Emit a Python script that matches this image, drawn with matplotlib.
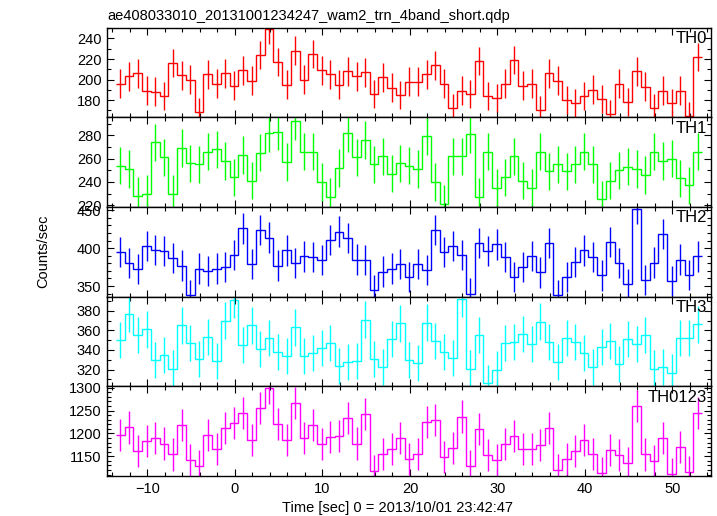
import matplotlib
matplotlib.use('Agg')
import matplotlib.pyplot as plt
import numpy as np
from matplotlib.ticker import MultipleLocator

plt.rcParams['font.family'] = ['Liberation Sans', 'DejaVu Sans']

# time binning (1 s bins)
t_first_edge = -13.6
bin_width = 1.0

# count rates per band
th0 = [196, 203, 206, 189, 188, 184, 216, 204, 200, 168,
       205, 196, 206, 194, 209, 199, 224, 249, 217, 195,
       228, 200, 225, 209, 205, 195, 208, 203, 207, 186,
       202, 192, 185, 198, 198, 205, 214, 196, 172, 189,
       186, 218, 184, 182, 196, 219, 194, 196, 170, 206,
       199, 180, 177, 184, 190, 181, 166, 196, 178, 208,
       193, 172, 189, 177, 189, 164, 222]
th1 = [254, 251, 228, 230, 274, 261, 230, 269, 256, 255,
       266, 268, 258, 244, 263, 241, 265, 282, 283, 257,
       292, 266, 266, 240, 227, 252, 282, 261, 276, 255,
       262, 247, 256, 254, 251, 279, 240, 221, 262, 262,
       281, 227, 266, 235, 244, 262, 241, 235, 266, 249,
       255, 249, 255, 266, 255, 225, 241, 250, 253, 251,
       246, 266, 258, 260, 243, 237, 266]
th2 = [395, 380, 372, 403, 398, 396, 387, 377, 338, 373,
       370, 373, 375, 391, 426, 379, 424, 414, 377, 397,
       380, 389, 388, 384, 411, 422, 413, 385, 384, 345,
       369, 373, 379, 362, 379, 371, 424, 395, 403, 391,
       340, 407, 396, 405, 388, 362, 375, 390, 368, 407,
       338, 362, 382, 397, 388, 364, 408, 380, 353, 452,
       358, 381, 419, 357, 385, 365, 389]
th3 = [350, 377, 355, 361, 330, 335, 321, 365, 347, 331,
       353, 329, 370, 391, 345, 365, 341, 352, 338, 334,
       363, 334, 337, 342, 347, 324, 328, 329, 371, 331,
       323, 351, 367, 330, 327, 368, 349, 338, 332, 392,
       321, 355, 306, 320, 347, 348, 356, 346, 369, 348,
       328, 352, 348, 337, 323, 343, 349, 326, 351, 346,
       355, 321, 323, 317, 352, 352, 366]
th0123 = [1196, 1213, 1162, 1183, 1191, 1178, 1154, 1218, 1142, 1128,
          1196, 1167, 1211, 1222, 1244, 1186, 1255, 1300, 1220, 1185,
          1266, 1191, 1218, 1176, 1192, 1194, 1233, 1178, 1242, 1117,
          1156, 1165, 1189, 1145, 1156, 1224, 1229, 1148, 1169, 1237,
          1129, 1209, 1152, 1141, 1176, 1194, 1166, 1166, 1174, 1211,
          1120, 1145, 1161, 1186, 1156, 1114, 1164, 1152, 1136, 1260,
          1154, 1140, 1189, 1112, 1171, 1116, 1245]

# typical 1-sigma error bar of each band
errors = [14, 16, 20, 18.5, 35]
names = ['TH0', 'TH1', 'TH2', 'TH3', 'TH0123']
rates = [th0, th1, th2, th3, th0123]

colors = ['#ff0000', '#00ff00', '#0000ff', '#00ffff', '#ff00ff']
ylims = [(163.3, 250.7), (218.6, 295.5), (336, 454.5), (303, 394.4), (1107, 1303)]
ymajor = [20, 20, 50, 20, 50]

fig, axes = plt.subplots(5, 1, sharex=True, figsize=(7.17, 5.16), dpi=100)
fig.subplots_adjust(left=0.1492, right=0.9916, bottom=0.0775, top=0.9467, hspace=0)

for ax, name, vals, err, col, lim, maj in zip(axes, names, rates, errors,
                                              colors, ylims, ymajor):
    edges = t_first_edge + bin_width * np.arange(len(vals) + 1)
    centers = edges[:-1] + bin_width / 2
    ax.stairs(vals, edges, color=col, lw=1.0, baseline=None)
    ax.errorbar(centers, vals, yerr=err, fmt='none', ecolor=col, elinewidth=1.0)
    ax.set_ylim(lim)
    ax.set_xlim(-14.63, 54.4)
    ax.yaxis.set_major_locator(MultipleLocator(maj))
    ax.yaxis.set_minor_locator(MultipleLocator(10))
    ax.xaxis.set_major_locator(MultipleLocator(10))
    ax.xaxis.set_minor_locator(MultipleLocator(2))
    ax.tick_params(which='both', direction='in', top=True, right=True,
                   labelsize=10.5, width=0.8, pad=4)
    ax.tick_params(which='major', length=5)
    ax.tick_params(which='minor', length=3)
    for s in ax.spines.values():
        s.set_linewidth(1.0)
    ax.text(0.993, 0.96, name, transform=ax.transAxes, ha='right', va='top',
            fontsize=12)

fig.text(107 / 717, 1 - 20 / 516, 'ae408033010_20131001234247_wam2_trn_4band_short.qdp',
         ha='left', va='baseline', fontsize=10.5)
fig.text(43 / 717, 1 - 251 / 516, 'Counts/sec', rotation=90,
         ha='center', va='center', fontsize=10.5)
fig.text(398 / 717, 1 - 508 / 516, 'Time [sec] 0 = 2013/10/01 23:42:47',
         ha='center', va='center', fontsize=10.5)

plt.savefig('out.png', dpi=100)
